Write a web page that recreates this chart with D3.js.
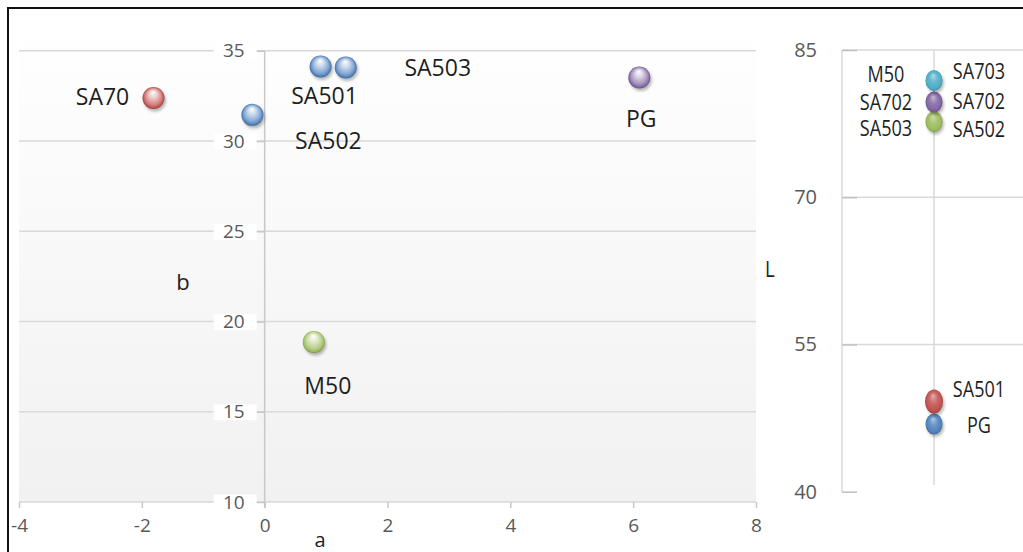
<!DOCTYPE html>
<html>
<head>
<meta charset="utf-8">
<script src="https://cdn.jsdelivr.net/npm/d3@7"></script>
<style>
  body { margin: 0; background: #fff; }
  svg { display: block; }
  text { font-family: "Open Sans", "Noto Sans", sans-serif; }
</style>
</head>
<body>
<svg id="chart" width="1023" height="552"></svg>
<script>
// ---- a*/b* scatter ----
const abNames   = ["SA70", "SA502", "SA501", "SA503", "M50", "PG"];
const aValues   = [-1.81, -0.2, 0.91, 1.32, 0.80, 6.1];
const bValues   = [32.38, 31.45, 34.13, 34.07, 18.87, 33.52];
const abSeries  = ["red", "blue", "blue", "blue", "green", "purple"];
const aTicks    = [-4, -2, 0, 2, 4, 6, 8];
const bTicks    = [10, 15, 20, 25, 30, 35];

// ---- L* lightness ----
const lMarkerValues = [46.9, 49.2, 77.7, 79.7, 81.9];
const lMarkerSeries = ["blue", "red", "green", "purple", "cyan"];
const lLeftLabels   = ["M50", "SA702", "SA503"];
const lLeftValues   = [81.9, 79.7, 77.7];
const lRightLabels  = ["SA703", "SA702", "SA502", "SA501", "PG"];
const lRightValues  = [81.9, 79.7, 77.7, 49.2, 46.9];
const lTicks        = [40, 55, 70, 85];

const palette = {
  blue: "#4F81BD", red: "#C0504D", green: "#9BBB59",
  purple: "#8064A2", cyan: "#4BACC6"
};

const svg = d3.select("#chart");
const defs = svg.append("defs");

// glossy sphere gradients (bright highlight) and a denser variant
Object.entries(palette).forEach(([key, base]) => {
  const c = d3.color(base);
  const tint = t => d3.interpolateRgb(base, "#fff")(t);
  const g = defs.append("radialGradient")
    .attr("id", "ball-" + key)
    .attr("cx", "50%").attr("cy", "50%").attr("r", "52%")
    .attr("fx", "48%").attr("fy", "22%");
  g.append("stop").attr("offset", "0%").attr("stop-color", "#ffffff");
  g.append("stop").attr("offset", "35%").attr("stop-color", tint(0.7));
  g.append("stop").attr("offset", "72%").attr("stop-color", tint(0.3));
  g.append("stop").attr("offset", "90%").attr("stop-color", base);
  g.append("stop").attr("offset", "100%").attr("stop-color", c.darker(1).formatHex());

  const s = defs.append("radialGradient")
    .attr("id", "solid-" + key)
    .attr("cx", "50%").attr("cy", "50%").attr("r", "52%")
    .attr("fx", "45%").attr("fy", "25%");
  s.append("stop").attr("offset", "0%").attr("stop-color", tint(0.55));
  s.append("stop").attr("offset", "45%").attr("stop-color", tint(0.15));
  s.append("stop").attr("offset", "85%").attr("stop-color", base);
  s.append("stop").attr("offset", "100%").attr("stop-color", c.darker(0.7).formatHex());
});
const shadow = defs.append("filter").attr("id", "soft").attr("x", "-50%").attr("y", "-50%")
  .attr("width", "200%").attr("height", "200%");
shadow.append("feGaussianBlur").attr("stdDeviation", 1.6);

const plotGrad = defs.append("linearGradient").attr("id", "plotbg")
  .attr("gradientUnits", "userSpaceOnUse")
  .attr("x1", 0).attr("y1", 20).attr("x2", 0).attr("y2", 502);
plotGrad.append("stop").attr("offset", "0%").attr("stop-color", "#ffffff");
plotGrad.append("stop").attr("offset", "100%").attr("stop-color", "#f1f1f1");

function ball(g, cx, cy, rx, ry, fillId) {
  g.append("ellipse").attr("cx", cx + 1.5).attr("cy", cy + 2.5)
    .attr("rx", rx).attr("ry", ry).attr("fill", "#000").attr("opacity", 0.28)
    .attr("filter", "url(#soft)");
  g.append("ellipse").attr("cx", cx).attr("cy", cy)
    .attr("rx", rx).attr("ry", ry).attr("fill", `url(#${fillId})`);
}

const gridColor = "#d9d9d9";
const axisColor = "#c8c8c8";
const tickText  = "#595959";
const labelText = "#1e1e1e";

// ================= left chart =================
const x = d3.scaleLinear().domain([-4, 8]).range([19, 756]);
const y = d3.scaleLinear().domain([10, 35]).range([502, 50.8]);

const left = svg.append("g");
left.append("rect").attr("x", 19).attr("y", 20).attr("width", 756 - 19).attr("height", 502 - 20)
  .attr("fill", "url(#plotbg)");

// horizontal gridlines
left.append("g").selectAll("line").data(bTicks).join("line")
  .attr("x1", x(-4)).attr("x2", x(8))
  .attr("y1", d => y(d)).attr("y2", d => y(d))
  .attr("stroke", gridColor).attr("stroke-width", 1.5);

// x axis with ticks hanging below
const xAxis = left.append("g").attr("transform", `translate(0,${y(10)})`)
  .call(d3.axisBottom(x).tickValues(aTicks).tickSize(6).tickPadding(11).tickFormat(d3.format("d")));
xAxis.select(".domain").remove();
xAxis.selectAll(".tick line").attr("stroke", axisColor).attr("stroke-width", 1.5);
xAxis.selectAll(".tick text").attr("fill", tickText).attr("font-size", 19)
  .text(d => d < 0 ? "-" + Math.abs(d) : d);

// y axis crossing at a = 0
const yAxis = left.append("g").attr("transform", `translate(${x(0)},0)`)
  .call(d3.axisLeft(y).tickValues(bTicks).tickSize(8).tickPadding(12));
yAxis.select(".domain").remove();
yAxis.selectAll(".tick line").attr("stroke", axisColor).attr("stroke-width", 1.5);
yAxis.selectAll(".tick").insert("rect", "text")
  .attr("x", -51).attr("y", -8).attr("width", 43).attr("height", 16)
  .attr("fill", "url(#plotbg)");
yAxis.selectAll(".tick text").attr("fill", tickText).attr("font-size", 19);
left.append("line").attr("x1", x(0)).attr("x2", x(0))
  .attr("y1", y(35)).attr("y2", y(10) + 6)
  .attr("stroke", axisColor).attr("stroke-width", 1.5);

// axis titles
left.append("text").attr("x", 183).attr("y", 290).attr("text-anchor", "middle")
  .attr("font-size", 22).attr("fill", labelText).text("b");
left.append("text").attr("x", 320).attr("y", 547).attr("text-anchor", "middle")
  .attr("font-size", 20).attr("fill", labelText).text("a");

// points
const abPoints = abNames.map((n, i) => ({ name: n, a: aValues[i], b: bValues[i], s: abSeries[i] }));
const ptLayer = left.append("g");
abPoints.forEach(p => ball(ptLayer, x(p.a), y(p.b), 11, 11, "ball-" + p.s));

// data label placement around each marker
const abLabelOffset = {
  SA70: [-51, -1], SA502: [76, 26], SA501: [4, 29],
  SA503: [92, 0], M50: [14, 44], PG: [2, 41]
};
left.append("g").selectAll("text").data(abPoints).join("text")
  .attr("x", d => x(d.a) + abLabelOffset[d.name][0])
  .attr("y", d => y(d.b) + abLabelOffset[d.name][1])
  .attr("dy", "0.36em").attr("text-anchor", "middle")
  .attr("font-size", 23).attr("fill", labelText)
  .text(d => d.name);

// ================= right chart =================
const yL = d3.scaleLinear().domain([40, 85]).range([491.7, 50]);
const xL = d3.scalePoint().domain(["L"]).range([842, 1026]).padding(0.5);
const right = svg.append("g");

right.append("g").selectAll("line").data(lTicks.filter(t => t > 40)).join("line")
  .attr("x1", 842).attr("x2", 1023)
  .attr("y1", d => yL(d)).attr("y2", d => yL(d))
  .attr("stroke", gridColor).attr("stroke-width", 1.5);

const lAxis = right.append("g").attr("transform", "translate(842,0)")
  .call(d3.axisLeft(yL).tickValues(lTicks).tickSize(-15).tickPadding(25));
lAxis.select(".domain").attr("stroke", gridColor).attr("stroke-width", 1.5)
  .attr("d", `M0,${yL(85)}V${yL(40)}`);
lAxis.selectAll(".tick line").attr("stroke", "#c0c0c0").attr("stroke-width", 1.5);
lAxis.selectAll(".tick text").attr("fill", tickText).attr("font-size", 20);

right.append("line").attr("x1", xL("L")).attr("x2", xL("L"))
  .attr("y1", yL(85)).attr("y2", 485)
  .attr("stroke", gridColor).attr("stroke-width", 1.5);

right.append("text")
  .attr("transform", "translate(770,277) scale(0.85,1)")
  .attr("text-anchor", "middle")
  .attr("font-size", 22).attr("fill", labelText).text("L");

const lLayer = right.append("g");
lMarkerValues.forEach((v, i) => {
  const rx = lMarkerSeries[i] === "red" ? 9 : 8.5;
  const ry = lMarkerSeries[i] === "red" ? 12 : 10.5;
  ball(lLayer, xL("L"), yL(v), rx, ry, "solid-" + lMarkerSeries[i]);
});

// stacked data labels, spread vertically so they do not collide
const leftShift  = [-6, 0, 7];
const rightShift = [-9, -1, 8, -12, 1];
function narrowLabel(g, cx, cy, txt) {
  g.append("text")
    .attr("transform", `translate(${cx},${cy}) scale(0.86,1)`)
    .attr("dy", "0.36em").attr("text-anchor", "middle")
    .attr("font-size", 21).attr("fill", labelText).text(txt);
}
lLeftLabels.forEach((t, i) => narrowLabel(right, xL("L") - 48, yL(lLeftValues[i]) + leftShift[i], t));
lRightLabels.forEach((t, i) => narrowLabel(right, xL("L") + 45, yL(lRightValues[i]) + rightShift[i], t));

// outer frame
svg.append("path").attr("d", "M8,560V8H1030")
  .attr("fill", "none").attr("stroke", "#111").attr("stroke-width", 2);
</script>
</body>
</html>
